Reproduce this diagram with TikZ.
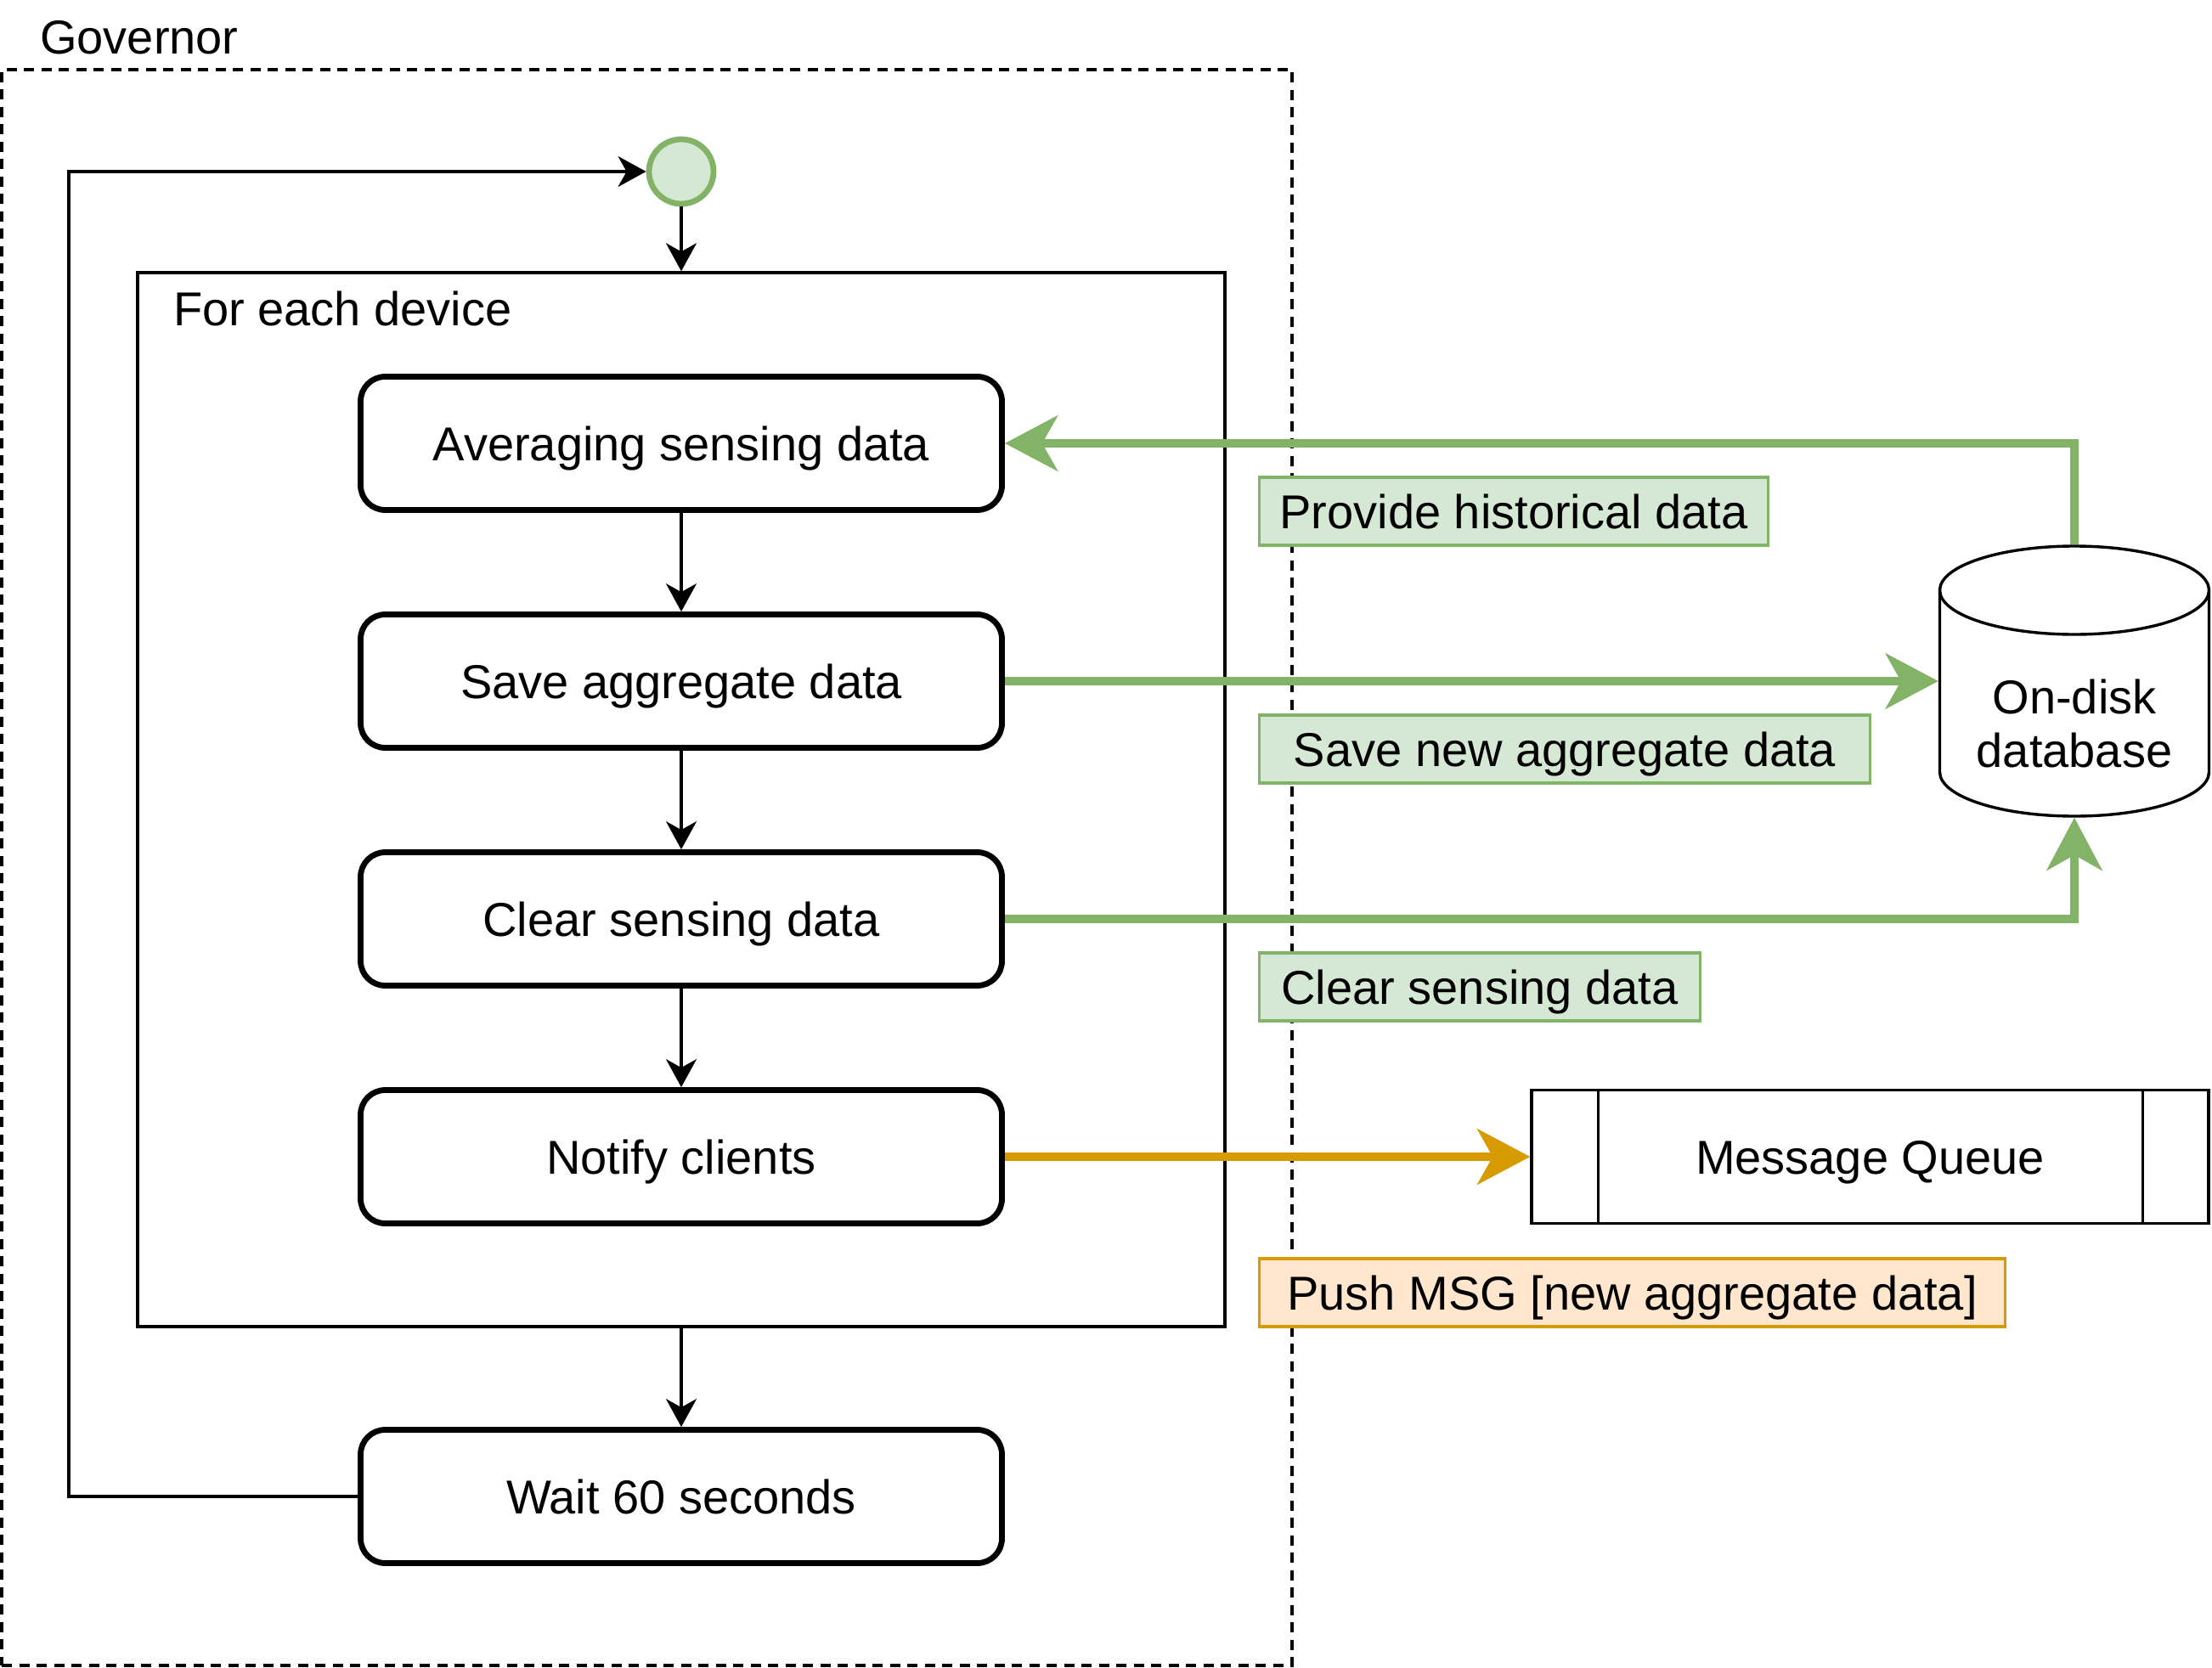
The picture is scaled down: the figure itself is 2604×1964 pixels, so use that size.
\documentclass[tikz,border=0pt]{standalone}
\usepackage{fontspec}
\setmainfont{Liberation Sans}
\usetikzlibrary{arrows.meta}
\definecolor{dgreen}{HTML}{82B366}
\definecolor{lgreen}{HTML}{D5E8D4}
\definecolor{dorange}{HTML}{D79B00}
\definecolor{lorange}{HTML}{FFE6CC}
\tikzset{
	pool/.style={draw, line width=3.4pt, dash pattern=on 12pt off 8.5pt, minimum width=1519pt, minimum height=1879pt, inner sep=0pt},
	loopbox/.style={draw, line width=3.4pt, minimum width=1280pt, minimum height=1241pt, inner sep=0pt},
	start/.style={circle, draw=dgreen, fill=lgreen, line width=6.8pt, minimum size=76pt, inner sep=0pt},
	act/.style={draw, fill=white, line width=6.8pt, rounded corners=29pt, minimum width=755pt, minimum height=157pt, inner sep=0pt, text height=40pt, text depth=0pt},
	caption/.style={anchor=west, inner sep=0pt, text height=40pt, text depth=0pt},
	tag/.style={anchor=west, draw=dgreen, fill=lgreen, line width=3.4pt, minimum height=80pt, inner sep=0pt, text height=40pt, text depth=0pt},
	flow/.style={line width=3.4pt, -{Stealth[length=33pt,width=36pt,inset=10pt]}},
	dataflow/.style={line width=10.3pt, draw=dgreen, -{Stealth[length=62pt,width=65pt,inset=18pt]}},
	msgflow/.style={dataflow, draw=dorange}
}
\begin{document}
\begin{tikzpicture}[x=1pt, y=-1pt, font=\fontsize{56}{66}\selectfont]
		\useasboundingbox (0,0) rectangle (2604,1964);
		% governor lane
		\node[pool] (governor) at (761.5,1021.5) {};
		\node[caption] (govlabel) at (47,44) {Governor};
		\node[start] (start) at (802,202) {};
		\node[loopbox] (device) at (802,941.5) {};
		\node[caption] (devlabel) at (204,363) {For each device};
		\node[act] (avg) at (802,522) {Averaging sensing data};
		\node[act] (save) at (802,802) {Save aggregate data};
		\node[act] (clear) at (802,1082) {Clear sensing data};
		\node[act] (notify) at (802,1362) {Notify clients};
		\node[act] (wait) at (802,1762) {Wait 60 seconds};
		\coordinate (loopleft) at (81,1762);
		% storage
		\node[minimum width=317pt, minimum height=318pt, inner sep=0pt, outer sep=1.7pt] (db) at (2442,802) {};
		\draw[line width=3.4pt, fill=white] (2283.5,695) -- (2283.5,909)
			arc[start angle=180, end angle=360, x radius=158.5pt, y radius=52pt] -- (2600.5,695)
			arc[start angle=0, end angle=180, x radius=158.5pt, y radius=52pt] -- cycle;
		\draw[line width=3.4pt] (2283.5,695) arc[start angle=180, end angle=360, x radius=158.5pt, y radius=52pt];
		\node[align=center, font=\fontsize{56}{63}\selectfont] (dbtext) at (2442,852) {On-disk\\database};
		\node[draw, line width=3.4pt, minimum width=797pt, minimum height=157pt, inner sep=0pt, outer sep=1.7pt, text height=40pt, text depth=0pt] (mq) at (2201.5,1362) {Message Queue};
		\draw[line width=3.4pt] ([xshift=80pt]mq.north west) -- ([xshift=80pt]mq.south west);
		\draw[line width=3.4pt] ([xshift=-79pt]mq.north east) -- ([xshift=-79pt]mq.south east);
		% control flow
		\draw[flow] (start) -- (device);
		\draw[flow] (avg) -- (save);
		\draw[flow] (save) -- (clear);
		\draw[flow] (clear) -- (notify);
		\draw[flow] (device) -- (wait);
		\draw[flow] (wait.west) -- (loopleft) |- (start.west);
		% data flow
		\draw[dataflow] (db.north) |- (avg.east);
		\draw[dataflow] (save.east) -- (db.west);
		\draw[dataflow] (clear.east) -| (db.south);
		\draw[msgflow] (notify.east) -- (mq.west);
		\node[tag, minimum width=598.6pt] (histlabel) at (1481,602) {Provide historical data};
		\node[tag, minimum width=718.6pt] (savelabel) at (1481,882) {Save new aggregate data};
		\node[tag, minimum width=518.6pt] (clearlabel) at (1481,1162) {Clear sensing data};
		\node[tag, minimum width=877.6pt, draw=dorange, fill=lorange] (pushlabel) at (1481,1522) {Push MSG [new aggregate data]};
\end{tikzpicture}
\end{document}
